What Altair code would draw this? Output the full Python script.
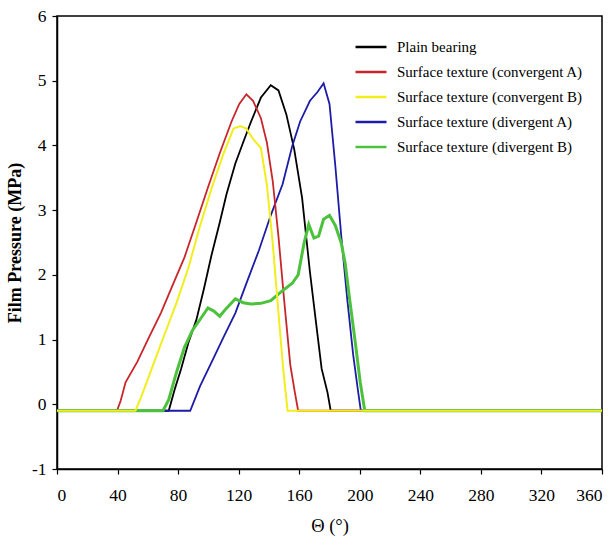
import altair as alt
import pandas as pd

series_names = [
    "Plain bearing",
    "Surface texture (convergent A)",
    "Surface texture (convergent B)",
    "Surface texture (divergent A)",
    "Surface texture (divergent B)",
]
series_colors = ["#000000", "#c8262b", "#f2ee1c", "#1c1ca8", "#4cc23c"]

theta_plain = [0, 73.8, 78, 82, 86.8, 92, 97.1, 102, 107.5, 112, 117.8, 123, 128.2, 134.7,
               141.2, 146.3, 151.5, 156.7, 161.9, 167, 170.9, 174.8, 178.7, 180.8, 360]
p_plain = [-0.1, -0.1, 0.25, 0.55, 0.95, 1.3, 1.79, 2.3, 2.81, 3.25, 3.72, 4.05, 4.37, 4.74,
           4.93, 4.85, 4.48, 3.94, 3.19, 2.06, 1.3, 0.55, 0.18, -0.1, -0.1]

theta_convA = [0, 39.6, 42, 45.3, 53.1, 60.9, 68.6, 76.4, 84.2, 92, 99.7, 107.5, 115.3, 120.4,
               125.1, 129.5, 134.7, 138.6, 142.5, 146.3, 150.2, 154.1, 157, 159.3, 360]
p_convA = [-0.1, -0.1, 0.05, 0.34, 0.66, 1.04, 1.41, 1.84, 2.27, 2.81, 3.35, 3.88, 4.37, 4.64,
           4.79, 4.69, 4.42, 4.05, 3.45, 2.59, 1.57, 0.61, 0.2, -0.1, -0.1]

theta_convB = [0, 51.8, 55.7, 63.5, 71.2, 79, 86.8, 94.5, 102.3, 110.1, 116.6, 121, 125.1,
               129.5, 134.7, 138.6, 142.5, 146.3, 149.4, 152.3, 360]
p_convB = [-0.1, -0.1, 0.12, 0.61, 1.09, 1.57, 2.11, 2.76, 3.35, 3.88, 4.26, 4.3, 4.26,
           4.1, 3.96, 3.4, 2.49, 1.41, 0.55, -0.1, -0.1]

theta_divA = [0, 88, 94.5, 102.3, 110.1, 117.8, 125.6, 133.4, 141.2, 149, 155.4, 160.6, 167.1,
              172.2, 176.1, 180, 183.9, 187.8, 191.7, 195.6, 198.7, 200.7, 360]
p_divA = [-0.1, -0.1, 0.28, 0.66, 1.04, 1.41, 1.9, 2.38, 2.92, 3.4, 3.99, 4.37, 4.69,
          4.83, 4.96, 4.64, 3.67, 2.59, 1.63, 0.77, 0.23, -0.1, -0.1]

theta_divB = [0, 70, 73.8, 79, 84.2, 89.4, 94.5, 99.7, 103.6, 107.5, 111.4, 117.8, 123, 128.2,
              134.7, 141.2, 147.6, 155.4, 159.3, 163.2, 166.3, 169.7, 172.8, 176.1, 180, 183.9,
              187.8, 190.4, 193, 196.9, 200.3, 203.3, 360]
p_divB = [-0.1, -0.1, 0.07, 0.5, 0.88, 1.14, 1.31, 1.49, 1.44, 1.36, 1.47, 1.63, 1.57, 1.55,
          1.56, 1.6, 1.73, 1.87, 2.0, 2.49, 2.78, 2.57, 2.6, 2.86, 2.92, 2.76,
          2.49, 2.17, 1.68, 0.98, 0.34, -0.1, -0.1]

x_ticks = [0, 40, 80, 120, 160, 200, 240, 280, 320, 360]
y_ticks = [-1, 0, 1, 2, 3, 4, 5, 6]

all_series = [
    (series_names[0], theta_plain, p_plain),
    (series_names[1], theta_convA, p_convA),
    (series_names[2], theta_convB, p_convB),
    (series_names[3], theta_divA, p_divA),
    (series_names[4], theta_divB, p_divB),
]
rows = []
for name, th, pp in all_series:
    for t, p in zip(th, pp):
        rows.append({"series": name, "theta": t, "p": p})
df = pd.DataFrame(rows)

serif = "Liberation Serif"

base = alt.Chart(df).encode(
    x=alt.X("theta:Q",
            scale=alt.Scale(domain=[0, 360], nice=False, zero=False),
            axis=alt.Axis(values=x_ticks, title="Θ (°)", labelPadding=12, titlePadding=13,
                          labelFont=serif, labelFontSize=17.5, titleFont=serif,
                          titleFontSize=18.5, titleFontWeight="normal",
                          labelExpr="'' + datum.value")),
    y=alt.Y("p:Q",
            scale=alt.Scale(domain=[-1, 6], nice=False, zero=False),
            axis=alt.Axis(values=y_ticks, title="Film Pressure (MPa)", labelPadding=6,
                          labelFont=serif, labelFontSize=17.5, titleFont=serif,
                          titleFontSize=18, titlePadding=7, titleFontWeight="bold",
                          labelExpr="'' + datum.value")),
    color=alt.Color("series:N",
                    scale=alt.Scale(domain=series_names, range=series_colors),
                    legend=alt.Legend(title=None, orient="none", legendX=297, legendY=14,
                                      symbolType="stroke", symbolSize=960,
                                      symbolStrokeWidth=2.5, labelFont=serif,
                                      labelFontSize=15, labelColor="black",
                                      labelLimit=400, rowPadding=0, labelOffset=9)),
)

draw_order = [
    (series_names[0], 1.8),
    (series_names[3], 1.8),
    (series_names[1], 1.8),
    (series_names[4], 3.0),
    (series_names[2], 2.0),
]
layers = [
    base.transform_filter(alt.datum.series == n).mark_line(strokeWidth=w)
    for n, w in draw_order
]

chart = (
    alt.layer(*layers)
    .properties(
        width=545,
        height=453,
        padding={"left": 57, "top": 16, "right": 13, "bottom": 76},
        autosize=alt.AutoSizeParams(type="none"),
        background="white",
    )
    .configure_view(stroke="black", strokeWidth=1.5)
    .configure_axis(
        grid=False,
        domainColor="black",
        domainWidth=1.5,
        tickColor="black",
        tickSize=5,
        tickWidth=1.2,
        labelColor="black",
        titleColor="black",
    )
)

chart.save("out.html", embed_options={"renderer": "svg", "actions": False})
